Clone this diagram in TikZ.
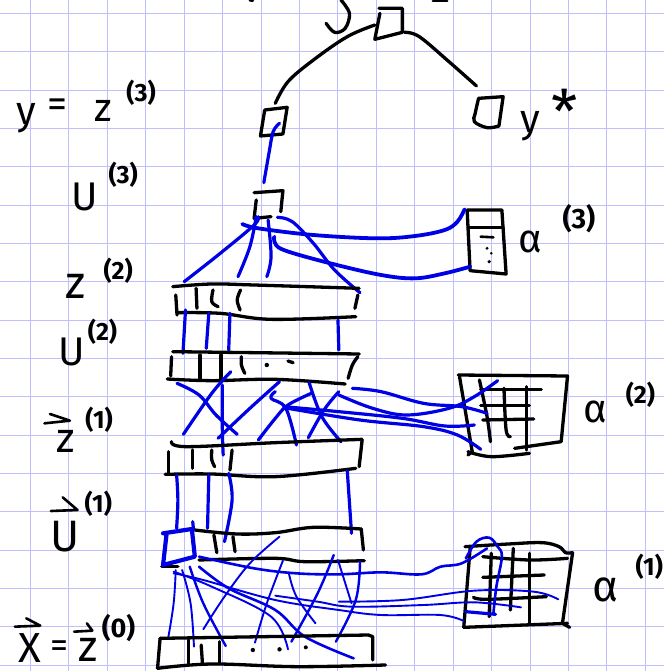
\documentclass[tikz,border=0pt]{standalone}
\usepackage{fontspec}
\setmainfont{Fira Sans}
\tikzset{
 ink/.style={draw=black,line width=3.3pt,line cap=round,line join=round},
 inkthin/.style={draw=black,line width=2.6pt,line cap=round,line join=round},
 blu/.style={draw=blue!90!black,line width=3.2pt,line cap=round,line join=round},
 blt/.style={draw=blue!90!black,line width=1.9pt,line cap=round,line join=round},
 bigl/.style={font=\fontsize{40}{40}\selectfont,inner sep=0pt,text=black},
 supl/.style={font=\fontsize{25}{25}\selectfont\bfseries,inner sep=0pt,text=black},
 tops/.style={x=0.42353pt,y=-0.33333pt},
 bots/.style={x=0.42353pt,y=-0.33333pt,yshift=-340pt},
 grid line/.style={draw=blue!25!white,line width=0.9pt},
 spl/.style={smooth,tension=0.6}
}
\begin{document}
\begin{tikzpicture}[x=1pt,y=1pt]
\useasboundingbox (0,0) rectangle (664,-671);
\fill[white] (0,0) rectangle (664,-671);
\foreach \i in {0,...,17} {\draw[grid line] ({30.5+38.42*\i},0) -- ({30.5+38.42*\i},-671);}
\foreach \i in {0,...,17} {\draw[grid line] (0,{-13.3-38.35*\i}) -- (664,{-13.3-38.35*\i});}

%%%% TOP PART
\begin{scope}[tops]
% top fragments
\draw[inkthin] (590,1) -- (597,2);
\draw[inkthin] (1022,3) -- (1056,3);
\draw[ink] plot[spl] coordinates {(805,0)(825,40)(815,85)(790,97)(770,70)};
\draw[ink] (895,25) -- (950,25) -- (950,97) -- (885,118) -- (897,40);
\draw[ink] plot[spl] coordinates {(885,75)(820,110)(740,180)(680,245)(650,310)};
\draw[ink] plot[spl] coordinates {(955,97)(990,110)(1060,185)(1125,258)};
\draw[ink] (625,330) -- (678,322) -- (668,402) -- (615,408) -- (625,330);
\draw[ink] plot[spl] coordinates {(1130,295)(1122,340)(1120,365)(1150,383)(1178,378)};
\draw[ink] (1130,295) -- (1188,290) -- (1178,378);
\draw[blu] plot[spl] coordinates {(660,370)(645,395)(635,460)(623,548)};
% u3 box
\draw[ink] (600,578) -- (668,572) -- (663,635);
\draw[ink] (605,600) -- (600,655) -- (640,650);
% alpha3
\draw[ink] (1103,630) -- (1185,630) -- (1195,822) -- (1110,812) -- (1103,630);
\draw[ink] (1105,682) -- (1188,682);
\draw[inkthin] (1135,710) -- (1165,712);
\fill (1150,745) circle (1.6pt) (1160,760) circle (1.4pt) (1155,785) circle (1.8pt);
% blue from alpha3
\draw[blu,line width=3.8pt] plot[spl] coordinates {(1097,628)(1080,665)(1050,690)(980,708)(890,715)(740,705)(610,685)(572,672)};
\draw[blu,line width=3.8pt] plot[spl] coordinates {(1110,800)(1050,820)(980,835)(900,825)(780,790)(670,750)(648,725)(648,710)};
\draw[blu] plot[spl] coordinates {(435,845)(520,760)(600,675)(610,650)};
\draw[blu] plot[spl] coordinates {(562,830)(590,740)(605,650)};
\draw[blu] plot[spl] coordinates {(630,830)(640,770)(633,660)};
\draw[blu] plot[spl] coordinates {(655,652)(690,665)(740,730)(790,810)(850,878)};
% z2 layer
\draw[ink] plot[spl] coordinates {(408,860)(500,852)(600,855)(848,865)};
\draw[ink] plot[spl] coordinates {(418,938)(520,940)(640,958)(840,950)};
\draw[ink] (415,885) -- (418,945);
\draw[ink] (463,865) -- (465,925);
\draw[ink] plot[spl] coordinates {(503,870)(500,905)(515,920)};
\draw[ink] plot[spl] coordinates {(568,870)(560,900)(567,930)};
\draw[ink] (845,885) -- (838,925);
% labels
\node[bigl] (ly) at (62,355) {y};
\node[bigl] (leq) at (135,325) {=};
\node[bigl] (lz3) at (243,333) {z};
\node[supl] (ls3) at (333,278) {(3)};
\node[bigl] (lu3) at (201,590) {U};
\node[supl] (ls4) at (291,525) {(3)};
\node[bigl,font=\fontsize{46}{46}\selectfont] (lz2) at (178,860) {z};
\node[supl] (ls5) at (279,812) {(2)};
\node[bigl] (lystar) at (1253,380) {y};
\node[bigl,font=\fontsize{60}{60}\selectfont] (lstar) at (1333,335) {*};
\node[bigl] (la3) at (1252,725) {α};
\node[supl,font=\fontsize{28}{28}\selectfont\bfseries] (ls6) at (1367,655) {(3)};
\end{scope}

%%%% BOTTOM PART
\begin{scope}[bots]
% blue between z2 and u2
\draw[blu] (438,-90) -- (432,40);
\draw[blu] (493,-80) -- (487,25);
\draw[blu] (543,-80) -- (540,30);
\draw[blu] (798,-60) -- (800,30);
% u2 layer
\draw[ink] plot[spl] coordinates {(408,35)(600,38)(848,42)};
\draw[ink] plot[spl] coordinates {(395,117)(500,122)(650,118)(815,132)};
\draw[ink] plot[spl] coordinates {(405,50)(403,108)};
\draw[ink] (472,45) -- (472,115);
\draw[ink] (522,45) -- (522,115);
\draw[ink] plot[spl] coordinates {(570,50)(570,75)(578,100)};
\draw[ink] plot[spl] coordinates {(845,50)(832,75)(822,115)};
\fill (630,75) circle (2.2pt);
\draw[ink] (680,63) -- (692,68);
% alpha2
\draw[ink] (1082,105) -- (1340,108) -- (1325,305) -- (1215,325);
\draw[ink] (1085,110) -- (1115,335) -- (1105,345);
\draw[ink] plot[spl] coordinates {(1105,335)(1160,350)(1250,340)};
\draw[ink] (1135,148) -- (1278,148);
\draw[ink] (1135,197) -- (1250,197);
\draw[ink] (1140,240) -- (1260,237);
\draw[ink] plot[spl] coordinates {(1132,120)(1150,230)(1158,305)};
\draw[ink] plot[spl] coordinates {(1190,145)(1195,270)(1205,290)};
\draw[ink] (1243,140) -- (1243,330);
% blue crosses
\draw[blu] plot[spl] coordinates {(418,130)(470,165)(510,225)(560,283)};
\draw[blu] plot[spl] coordinates {(545,95)(500,160)(433,283)};
\draw[blu] plot[spl] coordinates {(525,135)(525,270)(527,345)};
\draw[blu] plot[spl] coordinates {(660,125)(590,205)(515,295)};
\draw[blu] plot[spl] coordinates {(650,155)(640,175)(675,205)(700,315)};
\draw[blu] plot[spl] coordinates {(730,128)(760,230)(805,305)};
\draw[blu] plot[spl] coordinates {(800,155)(765,210)(728,293)};
\draw[blu] plot[spl] coordinates {(610,300)(650,235)(680,195)(735,160)};
\draw[blu] plot[spl] coordinates {(832,145)(900,155)(1000,190)(1090,200)(1150,220)};
\draw[blu] plot[spl] coordinates {(800,165)(880,205)(960,225)(1060,205)(1120,170)(1175,122)};
\draw[blu] plot[spl] coordinates {(670,200)(800,215)(950,235)(1050,258)(1120,255)};
\draw[blu] plot[spl] coordinates {(680,205)(850,240)(1000,260)(1080,285)(1135,328)};
% z1 layer
\draw[ink] plot[spl] coordinates {(405,305)(440,320)(650,308)(855,298)};
\draw[ink] plot[spl] coordinates {(390,403)(500,402)(650,410)(840,385)};
\draw[ink] (398,335) -- (398,400);
\draw[ink] (455,330) -- (455,385);
\draw[ink] plot[spl] coordinates {(500,330)(500,360)(507,380)};
\draw[ink] (548,330) -- (543,390);
\draw[ink] (855,300) -- (848,380);
% blue z1-u1
\draw[blu] plot[spl] coordinates {(417,405)(420,480)(417,565)};
\draw[blu] (493,405) -- (490,565);
\draw[blu] plot[spl] coordinates {(540,400)(548,480)(530,605)};
\draw[blu] (820,393) -- (830,580);
% u1 layer
\draw[ink] plot[spl] coordinates {(460,570)(560,582)(650,578)(740,562)(853,567)};
\draw[ink] (853,567) -- (858,630);
\draw[ink] plot[spl] coordinates {(470,660)(650,655)(720,665)(860,662)};
\draw[ink] (505,585) -- (512,638);
\draw[ink] (550,590) -- (555,635);
\draw[ink] (382,680) -- (420,680);
\draw[blu,line width=4.2pt] (385,580) -- (453,567) -- (460,650) -- (385,675) -- (393,585);
\draw[blu] (455,545) -- (457,570);
% alpha1
\draw[ink] plot[spl] coordinates {(1098,620)(1200,612)(1280,608)(1320,620)(1335,638)(1352,638)};
\draw[ink] (1352,638) -- (1328,850) -- (1345,862);
\draw[ink] (1095,862) -- (1340,850);
\draw[ink] (1110,625) -- (1095,862);
\draw[ink] plot[spl] coordinates {(1140,650)(1250,660)(1340,655)};
\draw[ink] (1140,712) -- (1285,705);
\draw[ink] plot[spl] coordinates {(1118,772)(1150,778)(1290,770)};
\draw[ink] (1160,640) -- (1155,830);
\draw[ink] (1212,625) -- (1205,810);
\draw[ink] (1250,640) -- (1250,850);
% thin blue
\draw[blt,line width=2.6pt] plot[spl] coordinates {(470,650)(600,685)(700,700)(800,703)(900,697)(995,703)(1040,680)(1090,670)(1150,625)};
\draw[blt,line width=2.6pt] plot[spl] coordinates {(1100,655)(1125,605)(1155,593)(1175,620)(1185,650)(1172,740)(1165,820)};
\draw[blu] (1100,815) -- (1170,823);
\draw[blt] plot[spl] coordinates {(415,690)(410,790)(397,895)};
\draw[blt] plot[spl] coordinates {(430,690)(450,790)(458,920)};
\draw[blt,line width=2.4pt] plot[spl] coordinates {(448,680)(480,790)(533,918)};
\draw[blt] plot[spl] coordinates {(660,590)(590,670)(530,770)(480,868)};
\draw[blt] plot[spl] coordinates {(668,662)(630,790)(602,908)};
\draw[blt] plot[spl] coordinates {(410,695)(500,740)(640,830)(680,928)};
\draw[blt,line width=2.6pt] plot[spl] coordinates {(470,680)(540,745)(650,810)(720,890)(835,955)};
\draw[blt] plot[spl] coordinates {(682,700)(700,770)(745,850)};
\draw[blt,line width=2.4pt] plot[spl] coordinates {(788,645)(750,760)(688,905)};
\draw[blt] (798,660) -- (830,790);
\draw[blt,line width=2.4pt] plot[spl] coordinates {(850,665)(840,780)(793,905)};
\draw[blt] plot[spl] coordinates {(410,700)(480,720)(650,780)(800,810)(900,825)(1040,825)(1095,843)};
\draw[blt] plot[spl] coordinates {(650,767)(750,785)(830,800)(1000,795)(1120,787)(1230,802)};
\draw[blt] plot[spl] coordinates {(800,785)(950,780)(1120,752)(1260,755)(1318,778)};
% x layer
\draw[ink] (378,895) -- (870,885) -- (880,890) -- (880,960);
\draw[ink] plot[spl] coordinates {(372,985)(500,972)(700,980)(910,975)};
\draw[ink] (378,895) -- (372,985);
\draw[ink] (445,900) -- (445,970);
\draw[ink] (475,915) -- (478,970);
\draw[ink] (518,905) -- (518,970);
\fill (597,930) circle (2.2pt) (660,928) circle (2.2pt) (722,922) circle (2pt);
% labels
\node[bigl] (lu2) at (170,35) {U};
\node[supl] (ls7) at (242,-25) {(2)};
\node[bigl,font=\fontsize{42}{42}\selectfont] (lz1) at (155,305) {z};
\draw[inkthin] (105,250) -- (165,242) (118,222) -- (165,242);
\node[supl] (ls8) at (234,240) {(1)};
\node[bigl,font=\fontsize{44}{44}\selectfont] (lu1) at (153,590) {U};
\draw[inkthin] (120,513) -- (183,510) (148,472) -- (183,510);
\node[supl] (ls9) at (232,492) {(1)};
\node[bigl,font=\fontsize{42}{42}\selectfont] (lx) at (70,925) {X};
\draw[inkthin] (35,860) -- (95,857) (62,835) -- (95,857);
\node[bigl,font=\fontsize{36}{36}\selectfont] (leq2) at (140,928) {=};
\node[bigl,font=\fontsize{44}{44}\selectfont] (lz0) at (208,930) {z};
\draw[inkthin] (175,875) -- (218,872) (205,850) -- (218,872);
\node[supl,font=\fontsize{27}{27}\selectfont\bfseries] (ls0) at (280,865) {(0)};
\node[bigl] (la2) at (1405,215) {α};
\node[supl] (ls10) at (1512,165) {(2)};
\node[bigl,font=\fontsize{44}{44}\selectfont] (la1) at (1430,750) {α};
\node[supl] (ls11) at (1533,680) {(1)};
\end{scope}
\end{tikzpicture}
\end{document}
